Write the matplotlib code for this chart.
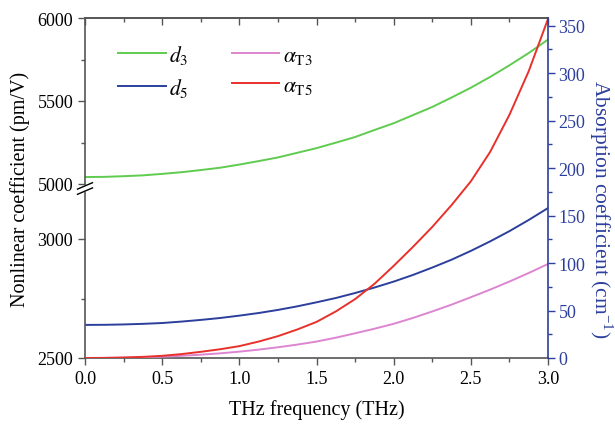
import numpy as np
import matplotlib
matplotlib.use('Agg')
import matplotlib.pyplot as plt
from matplotlib.ticker import FixedLocator, MultipleLocator, FormatStrFormatter, NullFormatter

plt.rcParams['font.family'] = ['Liberation Serif', 'DejaVu Serif']
plt.rcParams['mathtext.fontset'] = 'stix'

# frequency grid (THz)
freq = [0.0, 0.125, 0.25, 0.375, 0.5, 0.625, 0.75, 0.875, 1.0, 1.125, 1.25, 1.375, 1.5,
        1.625, 1.75, 1.875, 2.0, 2.125, 2.25, 2.375, 2.5, 2.625, 2.75, 2.875, 3.0]

# nonlinear coefficients (pm/V)
d3 = [5042, 5043, 5047, 5052, 5061, 5071, 5084, 5098, 5117, 5138, 5160, 5188, 5216,
      5249, 5283, 5325, 5366, 5415, 5464, 5521, 5580, 5645, 5715, 5789, 5870]
d5 = [2639, 2639.5, 2641, 2643.5, 2647, 2653, 2660, 2668, 2678, 2689, 2702, 2717, 2734,
      2752, 2773, 2796, 2821, 2849, 2880, 2913, 2950, 2990, 3033, 3080, 3130]

# absorption coefficients (cm^-1)
aT3 = [0, 0.1, 0.3, 0.8, 1.4, 2.3, 3.5, 4.9, 6.7, 8.8, 11.3, 14.1, 17.3,
       21.4, 26, 30.8, 36, 42.2, 49, 56.2, 64, 72, 80.5, 89.5, 99]
aT5 = [0, 0.1, 0.5, 1.2, 2.3, 4.1, 6.5, 9.2, 12.5, 17.3, 23, 30, 38,
       49, 62, 78, 97, 117, 138, 161, 186, 217, 256, 302, 357]

left_ticks = [2500, 3000, 5000, 5500, 6000]
left_minor = [2750, 5250, 5750]

green = '#5fcb4f'
navy = '#2c3f9c'
pink = '#dd85d0'
red = '#e8312a'
grey = '#555555'

# broken left axis: lower part 2500-~3210, upper part ~4970-6000
S_LO = 119 / 500.0
S_HI = 166 / 1000.0
U_BRK = 169.5
V_LO_MAX = 2500 + U_BRK / S_LO
V_HI_MIN = 5000 - (174 - U_BRK) / S_HI


def fwd(v):
    v = np.asarray(v, dtype=float)
    lo = (v - 2500) * S_LO
    hi = 174 + (v - 5000) * S_HI
    return np.where(v <= V_LO_MAX, lo, np.where(v >= V_HI_MIN, hi, U_BRK))


def inv(u):
    u = np.asarray(u, dtype=float)
    return np.where(u <= U_BRK, 2500 + u / S_LO, 5000 + (u - 174) / S_HI)


fig = plt.figure(figsize=(6.15, 4.27), dpi=100)
ax = fig.add_axes([85 / 615, 68 / 427, 463 / 615, 340 / 427])
ax2 = ax.twinx()

l1, = ax.plot(freq, d3, color=green, lw=1.4, label='$d_3$')
l2, = ax.plot(freq, d5, color=navy, lw=1.4, label='$d_5$')
l3, = ax2.plot(freq, aT3, color=pink, lw=1.4, label=r'$\alpha_{\mathrm{T3}}$')
l4, = ax2.plot(freq, aT5, color=red, lw=1.4, label=r'$\alpha_{\mathrm{T5}}$')

ax.set_yscale('function', functions=(fwd, inv))
ax.set_ylim(2500, 6000)
ax.set_xlim(0, 3.0)
ax.yaxis.set_major_locator(FixedLocator(left_ticks))
ax.yaxis.set_minor_locator(FixedLocator(left_minor))
ax.yaxis.set_major_formatter(FormatStrFormatter('%d'))
ax.xaxis.set_major_locator(MultipleLocator(0.5))
ax.xaxis.set_minor_locator(MultipleLocator(0.25))
ax.xaxis.set_major_formatter(FormatStrFormatter('%.1f'))

ax2.set_ylim(0, 358)
ax2.yaxis.set_major_locator(MultipleLocator(50))
ax2.yaxis.set_minor_locator(MultipleLocator(25))

ax.tick_params(axis='both', which='both', labelsize=13, width=1.0, color=grey,
               direction='out', right=False, top=False)
ax.tick_params(axis='both', which='major', length=5)
ax.tick_params(axis='both', which='minor', length=3)
ax2.tick_params(axis='y', which='both', labelsize=13, colors=navy, width=1.0, pad=2.5)
ax2.tick_params(axis='y', which='major', length=5)
ax2.tick_params(axis='y', which='minor', length=3)

# inward ticks along the top edge
top = ax.secondary_xaxis('top')
top.xaxis.set_major_locator(MultipleLocator(0.5))
top.xaxis.set_minor_locator(MultipleLocator(0.25))
top.xaxis.set_major_formatter(NullFormatter())
top.tick_params(axis='x', which='both', direction='in', color=grey, width=1.0)
top.tick_params(axis='x', which='major', length=5)
top.tick_params(axis='x', which='minor', length=3)
top.spines['top'].set_color(grey)
top.spines['top'].set_linewidth(1.2)

for side in ['left', 'bottom', 'top']:
    ax.spines[side].set_color(grey)
    ax.spines[side].set_linewidth(1.2)
ax.spines['right'].set_visible(False)
ax2.spines['right'].set_color(navy)
ax2.spines['right'].set_linewidth(1.2)
for side in ['left', 'bottom', 'top']:
    ax2.spines[side].set_visible(False)

ax.set_xlabel('THz frequency (THz)', fontsize=14.5, labelpad=9)
ax.set_ylabel('Nonlinear coefficient (pm/V)', fontsize=14.5, labelpad=5)
ax2.set_ylabel('Absorption coefficient (cm$^{\\mathregular{-1}}$)', fontsize=15.5,
               color=navy, rotation=270, va='center', ha='center')
ax2.yaxis.set_label_coords(1.113, 0.44)

# break marks on the left spine
yb = (359 - 189.5) / 340
dx, dy, gap = 7.5 / 463, 3.2 / 340, 2.6 / 340
ax.fill([-dx, dx, dx, -dx], [yb - gap - dy, yb - gap + dy, yb + gap + dy, yb + gap - dy],
        color='white', transform=ax.transAxes, clip_on=False, zorder=5)
for off in (-gap, gap):
    ax.plot([-dx, dx], [yb + off - dy, yb + off + dy], color='black', lw=1.0,
            transform=ax.transAxes, clip_on=False, zorder=6)

ax.legend(handles=[l1, l2, l3, l4], ncol=2, loc='upper left', frameon=False,
          bbox_to_anchor=(0.03, 0.984), fontsize=15.5, handlelength=2.2,
          columnspacing=2.0, labelspacing=0.45, handletextpad=0.17)

fig.savefig('out.png', dpi=100)
